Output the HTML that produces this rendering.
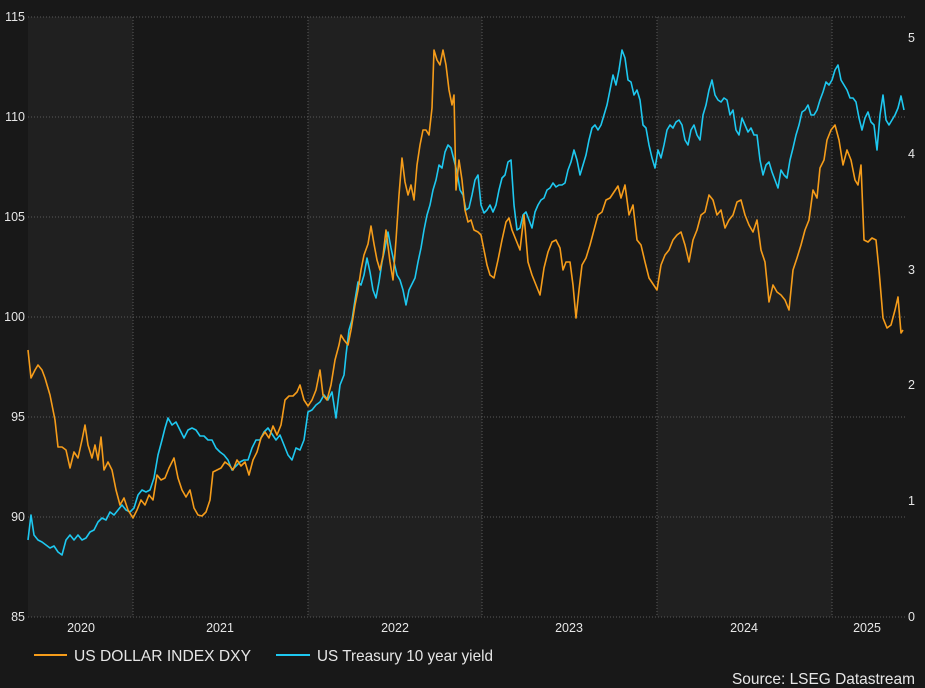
<!DOCTYPE html>
<html><head><style>
body{margin:0;background:#181818;}
svg{display:block}
text{font-family:"Liberation Sans",sans-serif;fill:#e6e6e6}
</style></head><body>
<svg width="925" height="688" viewBox="0 0 925 688">
<rect width="925" height="688" fill="#181818"/>
<rect x="28" y="17" width="105" height="600" fill="#202020"/>
<rect x="308" y="17" width="174" height="600" fill="#202020"/>
<rect x="657" y="17" width="175" height="600" fill="#202020"/>
<g stroke="#5a5a5a" stroke-dasharray="1,2" stroke-width="1">
<line x1="28" y1="17" x2="905" y2="17"/><line x1="28" y1="117" x2="905" y2="117"/>
<line x1="28" y1="217" x2="905" y2="217"/><line x1="28" y1="317" x2="905" y2="317"/>
<line x1="28" y1="417" x2="905" y2="417"/><line x1="28" y1="517" x2="905" y2="517"/>
<line x1="28" y1="617" x2="905" y2="617"/>
<line x1="133" y1="17" x2="133" y2="617"/><line x1="308" y1="17" x2="308" y2="617"/>
<line x1="482" y1="17" x2="482" y2="617"/><line x1="657" y1="17" x2="657" y2="617"/>
<line x1="832" y1="17" x2="832" y2="617"/>
</g>
<g font-size="12.5" text-anchor="end">
<text x="25" y="21">115</text><text x="25" y="121">110</text><text x="25" y="221">105</text>
<text x="25" y="321">100</text><text x="25" y="421">95</text><text x="25" y="521">90</text><text x="25" y="621">85</text>
</g>
<g font-size="12.5">
<text x="908" y="42">5</text><text x="908" y="158">4</text><text x="908" y="274">3</text>
<text x="908" y="389">2</text><text x="908" y="505">1</text><text x="908" y="621">0</text>
</g>
<g font-size="12.5" text-anchor="middle">
<text x="81" y="632">2020</text><text x="220" y="632">2021</text><text x="395" y="632">2022</text>
<text x="569" y="632">2023</text><text x="744" y="632">2024</text><text x="867" y="632">2025</text>
</g>
<polyline fill="none" stroke="#1ec8f0" stroke-width="1.6" stroke-linejoin="round" points="28,540 31,515 34,535 38,540 42,542 46,545 50,548 54,546 58,552 62,555 66,540 70,535 74,540 78,535 82,540 86,538 90,532 94,530 98,522 102,518 106,520 110,512 114,515 118,510 122,505 126,510 130,512 134,508 138,495 142,490 146,492 150,490 154,478 158,455 162,440 165,428 168,418 172,425 176,422 180,430 184,438 188,430 192,428 196,430 200,436 204,436 208,440 212,440 216,448 220,452 224,455 228,460 232,470 236,466 240,462 244,460 248,460 252,448 256,440 260,440 264,432 268,428 272,434 276,440 280,435 284,445 288,455 292,460 296,448 300,450 304,440 308,412 312,410 316,405 320,402 324,395 328,400 332,392 336,418 340,385 344,375 346,355 349,330 352,320 355,300 358,282 361,285 364,275 367,258 370,272 373,290 376,298 379,282 382,262 385,248 388,232 391,248 394,262 397,275 400,280 403,290 406,305 409,290 412,284 415,278 418,262 421,248 424,230 427,215 430,205 433,190 436,180 439,165 442,168 445,152 448,145 451,148 454,160 457,172 460,190 463,195 466,210 469,208 472,195 475,180 478,175 481,205 484,213 487,210 490,205 493,212 496,205 499,190 502,178 505,175 508,162 511,160 514,205 517,230 520,228 523,215 526,212 529,220 532,228 535,212 538,205 541,200 544,198 547,190 550,188 553,183 556,187 559,185 562,185 565,183 568,170 571,162 574,150 577,160 580,175 583,165 586,155 589,140 592,128 595,125 598,130 601,125 604,115 607,105 610,90 613,75 616,85 619,70 622,50 625,58 628,80 631,82 634,95 637,90 640,100 643,125 646,128 649,145 652,158 655,168 658,150 661,158 664,145 667,130 670,125 673,128 676,122 679,120 682,125 685,140 688,145 691,130 694,125 697,135 700,140 703,115 706,105 709,90 712,80 715,95 718,100 721,102 724,98 727,100 730,115 733,110 736,130 739,135 742,118 745,125 748,132 751,128 754,135 757,135 760,160 763,175 766,165 769,162 772,172 775,180 778,188 781,170 784,175 787,178 790,160 793,148 796,135 799,125 802,112 805,110 808,105 811,115 814,115 817,110 820,100 823,92 826,82 829,85 832,80 835,70 838,65 841,80 844,85 847,90 850,98 853,98 856,102 859,118 862,130 865,118 868,112 871,122 874,125 877,150 880,115 883,95 886,120 889,125 892,120 895,115 898,108 901,96 904,110"/>
<polyline fill="none" stroke="#f59c1a" stroke-width="1.6" stroke-linejoin="round" points="28,350 31,378 35,370 38,365 42,370 45,378 50,395 55,420 58,447 62,447 66,450 70,468 74,452 78,458 82,440 85,425 88,445 92,458 95,445 98,460 101,437 104,470 108,462 112,470 116,490 120,505 124,498 128,510 133,518 137,510 141,500 145,505 149,495 153,500 157,475 161,480 165,478 169,468 174,458 178,478 182,490 186,497 190,490 194,508 198,515 202,516 206,512 210,500 213,472 217,470 221,468 225,462 229,465 233,470 237,460 241,466 245,462 249,475 253,460 257,452 261,438 265,432 269,438 273,426 277,435 281,425 285,400 289,396 293,396 297,392 300,385 304,400 308,406 312,400 316,390 320,370 323,395 327,400 331,385 335,360 339,345 341,335 344,340 348,345 351,330 355,305 358,290 361,270 364,255 368,244 371,226 374,244 377,260 380,270 383,256 386,230 390,262 393,280 396,240 399,195 402,158 405,182 408,195 411,185 414,200 417,165 420,145 423,130 426,130 429,135 432,108 434,50 437,60 440,65 443,50 446,65 449,90 452,105 454,95 456,190 459,160 462,180 465,210 468,222 471,220 474,230 478,232 481,235 484,250 487,265 490,275 494,278 498,260 502,240 506,222 509,218 512,230 516,240 520,250 524,215 528,262 532,275 536,285 540,295 544,268 548,252 552,242 556,240 560,248 563,270 566,262 570,262 573,285 576,318 579,290 582,265 586,258 590,245 594,230 598,215 602,212 606,200 610,198 614,192 618,186 621,198 625,185 629,215 633,205 637,240 641,245 645,262 649,278 653,284 657,290 661,265 665,255 669,250 673,240 677,235 681,232 685,245 689,262 693,240 697,230 701,215 705,212 709,195 713,200 717,215 721,210 725,228 729,220 733,215 737,202 741,200 745,215 749,225 753,232 757,220 761,250 765,262 769,302 773,285 777,292 781,295 785,300 789,310 793,270 797,258 801,245 805,230 809,220 813,190 817,198 820,168 824,160 827,140 831,130 835,125 839,140 843,165 847,150 851,160 855,180 858,185 861,165 864,240 868,242 872,238 876,240 879,270 883,318 887,328 891,325 895,310 898,297 901,333 903,330"/>
<line x1="34" y1="655" x2="67" y2="655" stroke="#f59c1a" stroke-width="2"/>
<text x="74" y="661" font-size="16" textLength="177" lengthAdjust="spacingAndGlyphs">US DOLLAR INDEX DXY</text>
<line x1="276" y1="655" x2="310" y2="655" stroke="#1ec8f0" stroke-width="2"/>
<text x="317" y="661" font-size="16" textLength="176" lengthAdjust="spacingAndGlyphs">US Treasury 10 year yield</text>
<text x="732" y="684" font-size="16" textLength="183" lengthAdjust="spacingAndGlyphs">Source: LSEG Datastream</text>
</svg>
</body></html>
